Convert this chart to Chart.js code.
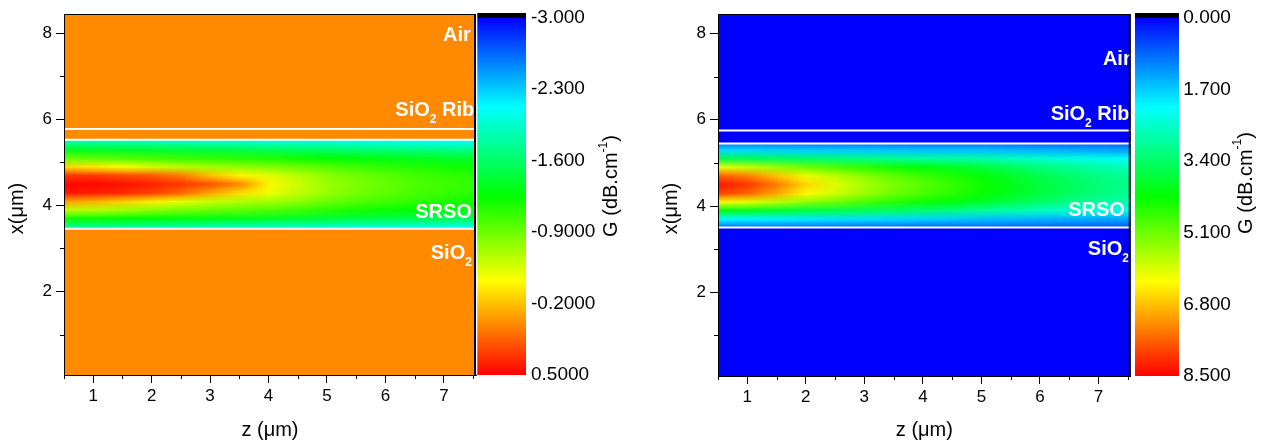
<!DOCTYPE html>
<html><head><meta charset="utf-8">
<script src="https://cdn.jsdelivr.net/npm/chart.js@4.4.1/dist/chart.umd.min.js"></script>
<style>
html,body{margin:0;padding:0;background:#fff;overflow:hidden}
#wrap{position:relative;width:1265px;height:441px}
canvas{position:absolute;top:0}
</style></head><body>
<div id="wrap">
<canvas id="cL" width="640" height="441" style="left:0px"></canvas>
<canvas id="cR" width="611" height="441" style="left:654px"></canvas>
</div>
<script>
// ---------------- DATA ----------------
// propagation distance z (µm) of grid columns
const zGrid = [0.5, 1.0, 1.5, 2.0, 2.5, 3.0, 3.5, 4.0, 4.5, 5.0, 5.5, 6.0, 6.5, 7.0, 7.5];
// transverse position x (µm) of grid rows inside the SRSO layer
const xGrid = [3.5, 3.7, 3.9, 4.1, 4.3, 4.5, 4.7, 4.9, 5.1, 5.3, 5.5];
// G (dB/cm), one array per z column, values listed from x = 3.5 to 5.5
const gainLeft = [
  [-1.75, -1.20, -0.62, -0.08, 0.42, 0.48, 0.32, -0.28, -0.92, -1.35, -1.85],
  [-1.78, -1.22, -0.66, -0.14, 0.40, 0.47, 0.30, -0.34, -0.95, -1.37, -1.87],
  [-1.80, -1.25, -0.72, -0.24, 0.35, 0.43, 0.24, -0.44, -0.99, -1.40, -1.88],
  [-1.82, -1.28, -0.80, -0.36, 0.27, 0.38, 0.18, -0.55, -1.03, -1.42, -1.90],
  [-1.85, -1.30, -0.86, -0.50, 0.12, 0.30, 0.05, -0.65, -1.06, -1.45, -1.92],
  [-1.88, -1.32, -0.91, -0.60, -0.10, 0.20, -0.20, -0.72, -1.09, -1.48, -1.95],
  [-1.90, -1.35, -0.95, -0.68, -0.30, 0.00, -0.38, -0.78, -1.12, -1.50, -1.97],
  [-1.92, -1.38, -0.99, -0.72, -0.48, -0.40, -0.52, -0.83, -1.15, -1.55, -2.00],
  [-1.95, -1.42, -1.05, -0.80, -0.63, -0.60, -0.66, -0.90, -1.20, -1.58, -2.00],
  [-1.97, -1.45, -1.12, -0.90, -0.77, -0.75, -0.80, -0.98, -1.25, -1.60, -2.02],
  [-2.00, -1.48, -1.18, -0.98, -0.87, -0.85, -0.89, -1.05, -1.29, -1.63, -2.05],
  [-2.00, -1.50, -1.22, -1.04, -0.95, -0.93, -0.96, -1.10, -1.32, -1.66, -2.05],
  [-2.02, -1.52, -1.26, -1.10, -1.02, -1.00, -1.03, -1.15, -1.35, -1.68, -2.08],
  [-2.05, -1.55, -1.30, -1.15, -1.07, -1.05, -1.08, -1.19, -1.38, -1.70, -2.10],
  [-2.05, -1.57, -1.33, -1.19, -1.12, -1.10, -1.12, -1.22, -1.40, -1.72, -2.10]
];
const gainRight = [
  [0.90, 2.10, 4.10, 6.30, 7.90, 8.30, 7.70, 6.10, 3.60, 1.80, 0.90],
  [0.90, 2.05, 4.00, 6.05, 7.60, 8.00, 7.40, 5.85, 3.55, 1.80, 0.90],
  [0.90, 2.00, 3.85, 5.70, 7.00, 7.40, 6.80, 5.45, 3.45, 1.75, 0.88],
  [0.88, 1.95, 3.70, 5.35, 6.30, 6.60, 6.10, 5.10, 3.35, 1.72, 0.86],
  [0.86, 1.90, 3.60, 5.10, 5.85, 6.00, 5.70, 4.85, 3.25, 1.70, 0.85],
  [0.85, 1.85, 3.50, 4.80, 5.45, 5.55, 5.30, 4.60, 3.15, 1.68, 0.84],
  [0.84, 1.80, 3.40, 4.55, 5.10, 5.20, 4.98, 4.38, 3.05, 1.65, 0.82],
  [0.82, 1.75, 3.28, 4.35, 4.82, 4.90, 4.72, 4.18, 2.97, 1.62, 0.80],
  [0.80, 1.68, 3.15, 4.15, 4.58, 4.65, 4.48, 3.98, 2.90, 1.60, 0.80],
  [0.80, 1.60, 2.95, 3.90, 4.30, 4.35, 4.20, 3.75, 2.85, 1.60, 0.80],
  [0.75, 1.55, 2.80, 3.65, 4.00, 4.05, 3.90, 3.50, 2.70, 1.55, 0.75],
  [0.75, 1.50, 2.65, 3.40, 3.70, 3.75, 3.60, 3.25, 2.55, 1.50, 0.75],
  [0.70, 1.45, 2.50, 3.15, 3.45, 3.50, 3.35, 3.05, 2.40, 1.45, 0.70],
  [0.70, 1.40, 2.35, 2.95, 3.20, 3.25, 3.15, 2.85, 2.30, 1.40, 0.70],
  [0.70, 1.35, 2.25, 2.80, 3.05, 3.10, 3.00, 2.70, 2.20, 1.35, 0.70]
];
// value outside the SRSO layer (cladding / air)
const claddingLeft = 0;
const claddingRight = 0;
// layer interfaces (x, µm)
const interfacesLeft = [5.78, 5.53, 3.46];
const interfacesRight = [5.75, 5.45, 3.50];
// SRSO layer extent (x, µm)
const srsoLeft = [3.46, 5.53];
const srsoRight = [3.50, 5.45];
// axis ticks
const zTicks = [1, 2, 3, 4, 5, 6, 7];
const zMinorTicks = [0.5, 1.5, 2.5, 3.5, 4.5, 5.5, 6.5, 7.5];
const xTicks = [2, 4, 6, 8];
const xMinorTicks = [1, 3, 5, 7];
// colour scales
const cbTicksLeft = [-3.0, -2.3, -1.6, -0.9, -0.2, 0.5];
const cbLabelsLeft = ['-3.000', '-2.300', '-1.600', '-0.9000', '-0.2000', '0.5000'];
const cbTicksRight = [0.0, 1.7, 3.4, 5.1, 6.8, 8.5];
const cbLabelsRight = ['0.000', '1.700', '3.400', '5.100', '6.800', '8.500'];
// region labels: text, subscript, tail, anchor (z right edge, x baseline)
const regionLabelsLeft = [
  {text: 'Air', sub: '', tail: '', z: 7.46, x: 7.83},
  {text: 'SiO', sub: '2', tail: ' Rib', z: 7.52, x: 6.08},
  {text: 'SRSO', sub: '', tail: '', z: 7.48, x: 3.70},
  {text: 'SiO', sub: '2', tail: '', z: 7.48, x: 2.75}
];
const regionLabelsRight = [
  {text: 'Air', sub: '', tail: '', z: 7.55, x: 7.27},
  {text: 'SiO', sub: '2', tail: ' Rib', z: 7.53, x: 6.00},
  {text: 'SRSO', sub: '', tail: '', z: 7.45, x: 3.77},
  {text: 'SiO', sub: '2', tail: '', z: 7.52, x: 2.86}
];

// ---------------- STYLE ----------------
const FONT = 'Arial, "Liberation Sans", sans-serif';
const cmapStops = [[0, [0, 0, 255]], [0.25, [0, 255, 255]], [0.5, [0, 255, 0]], [0.736, [255, 255, 0]], [1, [255, 0, 0]]];
function cmap(t) {
  t = Math.max(0, Math.min(1, t));
  for (let i = 1; i < cmapStops.length; i++) {
    const [t0, c0] = cmapStops[i - 1], [t1, c1] = cmapStops[i];
    if (t <= t1) { const f = (t - t0) / (t1 - t0); return c0.map((v, k) => Math.round(v + (c1[k] - v) * f)); }
  }
  return cmapStops[cmapStops.length - 1][1];
}

function makePanel(canvasId, P) {
  const vLo = P.cbTicks[0], vHi = P.cbTicks[P.cbTicks.length - 1];
  const col = v => cmap((v - vLo) / (vHi - vLo));
  const plugin = {
    id: 'heatmap_' + canvasId,
    beforeDatasetsDraw(chart) {
      const {ctx, chartArea: a, scales: {x, y}} = chart;
      ctx.save();
      const bg = col(P.cladding);
      ctx.fillStyle = `rgb(${bg[0]},${bg[1]},${bg[2]})`;
      ctx.fillRect(a.left, a.top, a.right - a.left, a.bottom - a.top);
      const nz = zGrid.length, nx = xGrid.length;
      const off = document.createElement('canvas');
      off.width = nz + 2; off.height = nx + 2;
      const octx = off.getContext('2d');
      const img = octx.createImageData(nz + 2, nx + 2);
      for (let r = 0; r < nx + 2; r++) {
        for (let c = 0; c < nz + 2; c++) {
          const ci = Math.min(nz - 1, Math.max(0, c - 1));
          const ri = Math.min(nx - 1, Math.max(0, r - 1));
          const cc = col(P.grid[ci][nx - 1 - ri]);
          const k = (r * (nz + 2) + c) * 4;
          img.data[k] = cc[0]; img.data[k + 1] = cc[1]; img.data[k + 2] = cc[2]; img.data[k + 3] = 255;
        }
      }
      octx.putImageData(img, 0, 0);
      const cw = x.getPixelForValue(zGrid[1]) - x.getPixelForValue(zGrid[0]);
      const ch = y.getPixelForValue(xGrid[0]) - y.getPixelForValue(xGrid[1]);
      const left = x.getPixelForValue(zGrid[0]) - cw * 1.5;
      const top = y.getPixelForValue(xGrid[nx - 1]) - ch * 1.5;
      const yTop = y.getPixelForValue(P.srso[1]), yBot = y.getPixelForValue(P.srso[0]);
      ctx.beginPath();
      ctx.rect(a.left, yTop, a.right - a.left, yBot - yTop);
      ctx.clip();
      ctx.imageSmoothingEnabled = true;
      ctx.imageSmoothingQuality = 'low';
      ctx.drawImage(off, left, top, cw * (nz + 2), ch * (nx + 2));
      ctx.restore();
      ctx.save();
      ctx.strokeStyle = '#ffffff';
      ctx.lineWidth = 2;
      P.interfaces.forEach(v => {
        const py = y.getPixelForValue(v);
        ctx.beginPath(); ctx.moveTo(a.left, py); ctx.lineTo(a.right + 1.5, py); ctx.stroke();
      });
      ctx.restore();
    },
    afterDatasetsDraw(chart) {
      const {ctx, chartArea: a, scales: {x, y, cb}} = chart;
      ctx.save();
      ctx.beginPath(); ctx.rect(a.left, a.top, a.right - a.left, a.bottom - a.top); ctx.clip();
      ctx.fillStyle = '#ffffff';
      ctx.textBaseline = 'alphabetic';
      ctx.textAlign = 'left';
      P.labels.forEach(L => {
        const big = 'bold 20px ' + FONT, small = 'bold 12px ' + FONT;
        ctx.font = big; const w1 = ctx.measureText(L.text).width; const w3 = L.tail ? ctx.measureText(L.tail).width : 0;
        ctx.font = small; const w2 = L.sub ? ctx.measureText(L.sub).width : 0;
        const xr = x.getPixelForValue(L.z), yb = y.getPixelForValue(L.x);
        let px = xr - (w1 + w2 + w3);
        ctx.font = big; ctx.fillText(L.text, px, yb); px += w1;
        if (L.sub) { ctx.font = small; ctx.fillText(L.sub, px, yb + 7); px += w2; }
        if (L.tail) { ctx.font = big; ctx.fillText(L.tail, px, yb); }
      });
      ctx.restore();
      ctx.save();
      ctx.strokeStyle = '#000'; ctx.lineWidth = 1;
      ctx.strokeRect(a.left + 0.5, a.top + 0.5, a.right - a.left - 1, a.bottom - a.top);
      ctx.beginPath(); ctx.moveTo(a.right - 1.5, a.top); ctx.lineTo(a.right - 1.5, a.bottom); ctx.stroke();
      zMinorTicks.forEach(v => { const px = Math.round(x.getPixelForValue(v)) + 0.5; ctx.beginPath(); ctx.moveTo(px, a.bottom); ctx.lineTo(px, a.bottom + 4); ctx.stroke(); });
      xMinorTicks.forEach(v => { const py = Math.round(y.getPixelForValue(v)) + 0.5; ctx.beginPath(); ctx.moveTo(a.left - 4, py); ctx.lineTo(a.left, py); ctx.stroke(); });
      const x0 = a.right + P.lay.cbBar[0], x1 = a.right + P.lay.cbBar[1];
      for (let py = Math.floor(cb.top) - 1; py < Math.ceil(cb.bottom); py++) {
        const v = cb.getValueForPixel(py + 0.5);
        const c = (v < vLo - 1e-9) ? [0, 0, 0] : col(Math.min(v, vHi));
        ctx.fillStyle = `rgb(${c[0]},${c[1]},${c[2]})`;
        ctx.fillRect(x0, py, x1 - x0, 1);
      }
      ctx.translate(a.right + P.lay.cbTitle[0], P.lay.cbTitle[1]);
      ctx.rotate(-Math.PI / 2);
      ctx.fillStyle = '#000';
      const f1 = '20px ' + FONT, f2 = '12px ' + FONT;
      ctx.font = f1; const t1 = 'G (dB.cm', t3 = ')';
      const a1 = ctx.measureText(t1).width, a3 = ctx.measureText(t3).width;
      ctx.font = f2; const t2 = '-1'; const a2 = ctx.measureText(t2).width;
      let sx = -(a1 + a2 + a3) / 2;
      ctx.textBaseline = 'middle';
      ctx.font = f1; ctx.fillText(t1, sx, 0); sx += a1;
      ctx.font = f2; ctx.fillText(t2, sx, -8); sx += a2;
      ctx.font = f1; ctx.fillText(t3, sx, 0);
      ctx.setTransform(1, 0, 0, 1, 0, 0);
      ctx.translate(P.lay.yTitle[0], P.lay.yTitle[1]);
      ctx.rotate(-Math.PI / 2);
      ctx.font = f1; ctx.textAlign = 'center'; ctx.textBaseline = 'middle';
      ctx.fillText('x(\u03bcm)', 0, 0);
      ctx.restore();
    }
  };

  return new Chart(document.getElementById(canvasId), {
    type: 'scatter',
    data: {datasets: []},
    options: {
      responsive: false, animation: false, devicePixelRatio: 1,
      layout: {padding: {top: P.lay.padTop, left: 0, right: 0, bottom: 0}},
      plugins: {legend: {display: false}, tooltip: {enabled: false}},
      scales: {
        x: {
          type: 'linear', position: 'bottom', min: 0.5, max: 7.55,
          afterBuildTicks: s => { s.ticks = zTicks.map(v => ({value: v})); },
          afterFit: s => { s.height = P.lay.xHeight; s.paddingLeft = 0; s.paddingRight = 0; },
          grid: {drawOnChartArea: false, drawTicks: true, tickLength: 8, color: '#000', tickColor: '#000'},
          border: {display: true, color: '#000', width: 1},
          ticks: {color: '#000', font: {size: 17, family: FONT}, padding: 3, maxRotation: 0, autoSkip: false, callback: v => String(v)},
          title: {display: true, text: 'z (\u03bcm)', color: '#000', font: {size: 20, family: FONT, lineHeight: 1}, padding: {top: 0, bottom: 1}}
        },
        y: {
          type: 'linear', position: 'left', min: 0.06, max: 8.45,
          afterBuildTicks: s => { s.ticks = xTicks.map(v => ({value: v})); },
          afterFit: s => { s.width = P.lay.yWidth; s.paddingTop = 0; s.paddingBottom = 0; },
          grid: {drawOnChartArea: false, drawTicks: true, tickLength: 8, color: '#000', tickColor: '#000'},
          border: {display: true, color: '#000', width: 1},
          ticks: {color: '#000', font: {size: 17, family: FONT}, padding: 4, autoSkip: false, callback: v => String(v)}
        },
        cb: {
          type: 'linear', position: 'right', reverse: true, min: P.cbMin, max: vHi,
          afterBuildTicks: s => { s.ticks = P.cbTicks.map(v => ({value: v})); },
          afterFit: s => { s.width = P.lay.cbWidth; s.paddingTop = 0; s.paddingBottom = 0; },
          grid: {display: false, drawTicks: false},
          border: {display: false},
          ticks: {color: '#000', font: {size: 19, family: FONT}, padding: P.lay.cbPad, autoSkip: false,
            callback: (v, i) => P.cbLabels[i]}
        }
      }
    },
    plugins: [plugin]
  });
}

makePanel('cL', {
  grid: gainLeft, cladding: claddingLeft, interfaces: interfacesLeft, srso: srsoLeft,
  cbTicks: cbTicksLeft, cbLabels: cbLabelsLeft, cbMin: -3.035, labels: regionLabelsLeft,
  lay: {padTop: 14, xHeight: 66, yWidth: 64, cbWidth: 164, cbBar: [1.3, 50], cbPad: 55, cbTitle: [135.7, 186], yTitle: [17.5, 208.5]}
});
makePanel('cR', {
  grid: gainRight, cladding: claddingRight, interfaces: interfacesRight, srso: srsoRight,
  cbTicks: cbTicksRight, cbLabels: cbLabelsRight, cbMin: -0.085, labels: regionLabelsRight,
  lay: {padTop: 14, xHeight: 65, yWidth: 64, cbWidth: 134.3, cbBar: [4.3, 48.3], cbPad: 52.6, cbTitle: [115.3, 183], yTitle: [17.7, 208.5]}
});
</script>
</body></html>
